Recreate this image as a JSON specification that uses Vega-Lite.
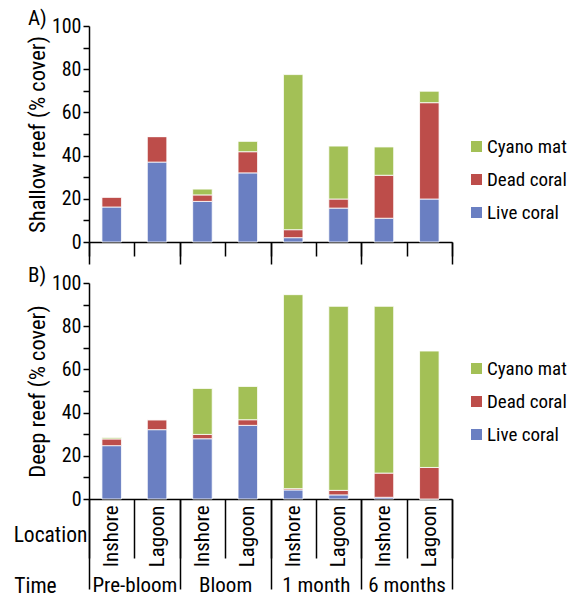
{
  "$schema": "https://vega.github.io/schema/vega-lite/v6.json",
  "background": "white",
  "padding": {"left": 13, "top": 8, "right": 2, "bottom": 2},
  "spacing": 0,
  "datasets": {
    "shallow": [
      {"time": "Pre-bloom", "bar": "Pre-bloom Inshore", "cover_type": "Live coral", "cover": 16.2},
      {"time": "Pre-bloom", "bar": "Pre-bloom Inshore", "cover_type": "Dead coral", "cover": 4.6},
      {"time": "Pre-bloom", "bar": "Pre-bloom Inshore", "cover_type": "Cyano mat", "cover": 0},
      {"time": "Pre-bloom", "bar": "Pre-bloom Lagoon", "cover_type": "Live coral", "cover": 37},
      {"time": "Pre-bloom", "bar": "Pre-bloom Lagoon", "cover_type": "Dead coral", "cover": 11.8},
      {"time": "Pre-bloom", "bar": "Pre-bloom Lagoon", "cover_type": "Cyano mat", "cover": 0},
      {"time": "Bloom", "bar": "Bloom Inshore", "cover_type": "Live coral", "cover": 18.8},
      {"time": "Bloom", "bar": "Bloom Inshore", "cover_type": "Dead coral", "cover": 3},
      {"time": "Bloom", "bar": "Bloom Inshore", "cover_type": "Cyano mat", "cover": 2.7},
      {"time": "Bloom", "bar": "Bloom Lagoon", "cover_type": "Live coral", "cover": 32},
      {"time": "Bloom", "bar": "Bloom Lagoon", "cover_type": "Dead coral", "cover": 9.8},
      {"time": "Bloom", "bar": "Bloom Lagoon", "cover_type": "Cyano mat", "cover": 4.8},
      {"time": "1 month", "bar": "1 month Inshore", "cover_type": "Live coral", "cover": 2},
      {"time": "1 month", "bar": "1 month Inshore", "cover_type": "Dead coral", "cover": 3.7},
      {"time": "1 month", "bar": "1 month Inshore", "cover_type": "Cyano mat", "cover": 71.8},
      {"time": "1 month", "bar": "1 month Lagoon", "cover_type": "Live coral", "cover": 15.7},
      {"time": "1 month", "bar": "1 month Lagoon", "cover_type": "Dead coral", "cover": 4.2},
      {"time": "1 month", "bar": "1 month Lagoon", "cover_type": "Cyano mat", "cover": 24.5},
      {"time": "6 months", "bar": "6 months Inshore", "cover_type": "Live coral", "cover": 11},
      {"time": "6 months", "bar": "6 months Inshore", "cover_type": "Dead coral", "cover": 19.9},
      {"time": "6 months", "bar": "6 months Inshore", "cover_type": "Cyano mat", "cover": 13.1},
      {"time": "6 months", "bar": "6 months Lagoon", "cover_type": "Live coral", "cover": 19.9},
      {"time": "6 months", "bar": "6 months Lagoon", "cover_type": "Dead coral", "cover": 44.6},
      {"time": "6 months", "bar": "6 months Lagoon", "cover_type": "Cyano mat", "cover": 5.3}
    ],
    "deep": [
      {"time": "Pre-bloom", "bar": "Pre-bloom Inshore", "cover_type": "Live coral", "cover": 24.7},
      {"time": "Pre-bloom", "bar": "Pre-bloom Inshore", "cover_type": "Dead coral", "cover": 3.1},
      {"time": "Pre-bloom", "bar": "Pre-bloom Inshore", "cover_type": "Cyano mat", "cover": 0.5},
      {"time": "Pre-bloom", "bar": "Pre-bloom Lagoon", "cover_type": "Live coral", "cover": 32.1},
      {"time": "Pre-bloom", "bar": "Pre-bloom Lagoon", "cover_type": "Dead coral", "cover": 4.6},
      {"time": "Pre-bloom", "bar": "Pre-bloom Lagoon", "cover_type": "Cyano mat", "cover": 0},
      {"time": "Bloom", "bar": "Bloom Inshore", "cover_type": "Live coral", "cover": 27.9},
      {"time": "Bloom", "bar": "Bloom Inshore", "cover_type": "Dead coral", "cover": 2},
      {"time": "Bloom", "bar": "Bloom Inshore", "cover_type": "Cyano mat", "cover": 21.3},
      {"time": "Bloom", "bar": "Bloom Lagoon", "cover_type": "Live coral", "cover": 34.1},
      {"time": "Bloom", "bar": "Bloom Lagoon", "cover_type": "Dead coral", "cover": 2.6},
      {"time": "Bloom", "bar": "Bloom Lagoon", "cover_type": "Cyano mat", "cover": 15.4},
      {"time": "1 month", "bar": "1 month Inshore", "cover_type": "Live coral", "cover": 4.2},
      {"time": "1 month", "bar": "1 month Inshore", "cover_type": "Dead coral", "cover": 0.6},
      {"time": "1 month", "bar": "1 month Inshore", "cover_type": "Cyano mat", "cover": 89.8},
      {"time": "1 month", "bar": "1 month Lagoon", "cover_type": "Live coral", "cover": 1.9},
      {"time": "1 month", "bar": "1 month Lagoon", "cover_type": "Dead coral", "cover": 2.1},
      {"time": "1 month", "bar": "1 month Lagoon", "cover_type": "Cyano mat", "cover": 85.2},
      {"time": "6 months", "bar": "6 months Inshore", "cover_type": "Live coral", "cover": 0.8},
      {"time": "6 months", "bar": "6 months Inshore", "cover_type": "Dead coral", "cover": 11.2},
      {"time": "6 months", "bar": "6 months Inshore", "cover_type": "Cyano mat", "cover": 77.2},
      {"time": "6 months", "bar": "6 months Lagoon", "cover_type": "Live coral", "cover": 0},
      {"time": "6 months", "bar": "6 months Lagoon", "cover_type": "Dead coral", "cover": 14.6},
      {"time": "6 months", "bar": "6 months Lagoon", "cover_type": "Cyano mat", "cover": 53.9}
    ]
  },
  "config": {
    "font": "Roboto Condensed, DejaVu Sans Condensed, Liberation Sans",
    "view": {"stroke": null},
    "axis": {
      "domainColor": "black", "tickColor": "black", "domainWidth": 1.5, "tickWidth": 1.5,
      "labelColor": "black", "titleColor": "black", "titleFontWeight": "normal",
      "labelFont": "Roboto Condensed, DejaVu Sans Condensed, Liberation Sans",
      "titleFont": "Roboto Condensed, DejaVu Sans Condensed, Liberation Sans",
      "grid": false, "labelOverlap": false
    },
    "legend": {
      "labelFont": "Roboto Condensed, DejaVu Sans Condensed, Liberation Sans",
      "labelColor": "black",
      "padding": 0
    },
    "title": {"font": "Roboto Condensed, DejaVu Sans Condensed, Liberation Sans", "fontWeight": "normal", "color": "black"}
  },
  "resolve": {"scale": {"color": "independent"}, "legend": {"color": "independent"}},
  "vconcat": [
    {
      "width": 363,
      "height": 216,
      "title": {"text": "A)", "anchor": "start", "frame": "group", "dx": -61, "offset": -13, "fontSize": 21},
      "data": {"name": "shallow"},
      "layer": [
        {
          "mark": {"type": "bar", "width": {"band": 0.43}, "stroke": "white", "strokeWidth": 0.8},
          "encoding": {
            "x": {
              "field": "bar", "type": "nominal",
              "sort": ["Pre-bloom Inshore", "Pre-bloom Lagoon", "Bloom Inshore", "Bloom Lagoon", "1 month Inshore", "1 month Lagoon", "6 months Inshore", "6 months Lagoon"],
              "scale": {"type": "band", "paddingInner": 0, "paddingOuter": 0},
              "axis": {"orient": "bottom", "labels": false, "tickBand": "extent", "tickSize": 14, "title": null}
            },
            "y": {
              "field": "cover", "type": "quantitative", "stack": "zero",
              "scale": {"domain": [0, 100], "nice": false},
              "axis": {
                "values": [0, 10, 20, 30, 40, 50, 60, 70, 80, 90, 100],
                "labelExpr": "datum.value % 20 === 0 ? datum.label : ''",
                "tickSize": 6, "labelFontSize": 20, "labelPadding": 2,
                "title": "Shallow reef (% cover)", "titleFontSize": 22.5, "titlePadding": 2
              }
            },
            "color": {
              "field": "cover_type", "type": "nominal",
              "scale": {"domain": ["Cyano mat", "Dead coral", "Live coral"], "range": ["#a3c056", "#bd4d4a", "#6a7fc2"]},
              "legend": {"orient": "none", "legendX": 378, "legendY": 111, "title": null, "symbolType": "square", "symbolSize": 121, "symbolStrokeWidth": 0, "labelFontSize": 19, "rowPadding": 13, "labelOffset": 1}
            },
            "order": {"field": "cover_type", "sort": "descending"}
          }
        },
        {
          "mark": {"type": "point", "opacity": 0},
          "encoding": {
            "x": {
              "field": "time", "type": "nominal",
              "sort": ["Pre-bloom", "Bloom", "1 month", "6 months"],
              "scale": {"type": "band", "paddingInner": 0, "paddingOuter": 0},
              "axis": {"orient": "bottom", "labels": false, "domain": false, "tickBand": "extent", "tickSize": 22, "title": null}
            }
          }
        }
      ],
      "resolve": {"scale": {"x": "independent"}, "axis": {"x": "independent"}}
    },
    {
      "width": 363,
      "height": 216,
      "title": {"text": "B)", "anchor": "start", "frame": "group", "dx": -61, "offset": -13, "fontSize": 21},
      "data": {"name": "deep"},
      "layer": [
        {
          "mark": {"type": "bar", "width": {"band": 0.43}, "stroke": "white", "strokeWidth": 0.8},
          "encoding": {
            "x": {
              "field": "bar", "type": "nominal",
              "sort": ["Pre-bloom Inshore", "Pre-bloom Lagoon", "Bloom Inshore", "Bloom Lagoon", "1 month Inshore", "1 month Lagoon", "6 months Inshore", "6 months Lagoon"],
              "scale": {"type": "band", "paddingInner": 0, "paddingOuter": 0},
              "axis": {
                "orient": "bottom", "tickBand": "extent", "tickSize": 59,
                "labelExpr": "slice(datum.label, lastindexof(datum.label, ' ') + 1)",
                "labelAngle": -90, "labelFontSize": 21, "labelPadding": -53,
                "title": "Location", "titleX": -39, "titleY": 36, "titleAngle": 0,
                "titleAlign": "center", "titleBaseline": "middle", "titleFontSize": 21.5
              }
            },
            "y": {
              "field": "cover", "type": "quantitative", "stack": "zero",
              "scale": {"domain": [0, 100], "nice": false},
              "axis": {
                "values": [0, 10, 20, 30, 40, 50, 60, 70, 80, 90, 100],
                "labelExpr": "datum.value % 20 === 0 ? datum.label : ''",
                "tickSize": 6, "labelFontSize": 20, "labelPadding": 2,
                "title": "Deep reef (% cover)", "titleFontSize": 22.5, "titlePadding": 2
              }
            },
            "color": {
              "field": "cover_type", "type": "nominal",
              "scale": {"domain": ["Cyano mat", "Dead coral", "Live coral"], "range": ["#a3c056", "#bd4d4a", "#6a7fc2"]},
              "legend": {"orient": "none", "legendX": 378, "legendY": 76, "title": null, "symbolType": "square", "symbolSize": 121, "symbolStrokeWidth": 0, "labelFontSize": 19, "rowPadding": 13, "labelOffset": 1}
            },
            "order": {"field": "cover_type", "sort": "descending"}
          }
        },
        {
          "mark": {"type": "point", "opacity": 0},
          "encoding": {
            "x": {
              "field": "time", "type": "nominal",
              "sort": ["Pre-bloom", "Bloom", "1 month", "6 months"],
              "scale": {"type": "band", "paddingInner": 0, "paddingOuter": 0},
              "axis": {
                "orient": "bottom", "domain": false, "tickBand": "extent", "tickSize": 90,
                "labelAngle": 0, "labelFontSize": 21, "labelPadding": -4, "labelBaseline": "middle",
                "title": "Time", "titleX": -54, "titleY": 87, "titleAngle": 0,
                "titleAlign": "center", "titleBaseline": "middle", "titleFontSize": 21.5
              }
            }
          }
        }
      ],
      "resolve": {"scale": {"x": "independent"}, "axis": {"x": "independent"}}
    }
  ]
}
